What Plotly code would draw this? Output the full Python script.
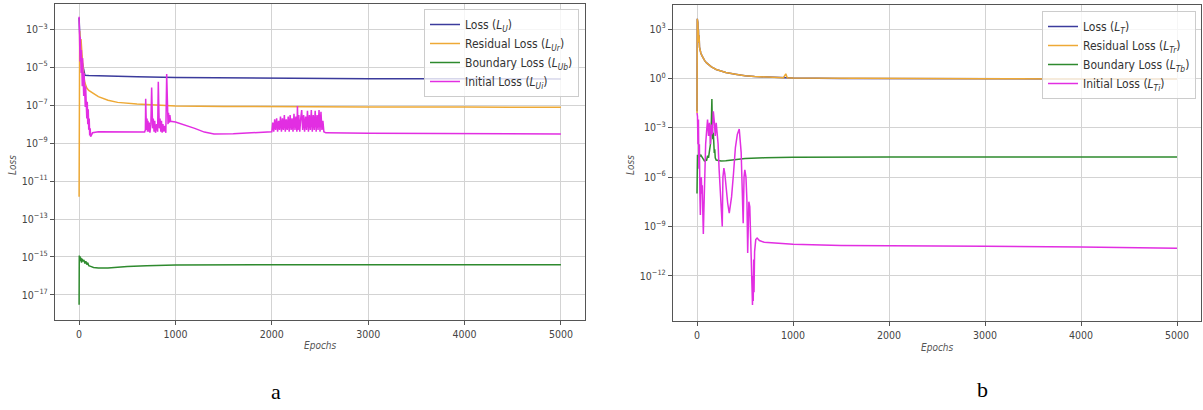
import plotly.graph_objects as go

# ---------------- Panel a (U) ----------------
epochs_loss_U = [0, 10, 30, 60, 100, 300, 600, 1000, 2000, 3000, 4000, 5000]
loss_U = [4e-3, 2e-4, 2e-5, 3.8e-6, 3.7e-6, 3.4e-6, 3.1e-6, 2.9e-6, 2.6e-6, 2.5e-6, 2.45e-6, 2.4e-6]

epochs_res_U = [0, 3, 6, 10, 15, 20, 30, 40, 50, 60, 80, 100, 150, 200, 300, 400, 600, 800,
                1000, 1500, 2000, 3000, 4000, 5000]
res_U = [1.5e-12, 2e-4, 8e-4, 3e-4, 1e-4, 3e-4, 5e-5, 1e-5, 3e-6, 1.5e-6, 8e-7, 6e-7, 4e-7,
         2.8e-7, 1.8e-7, 1.4e-7, 1.15e-7, 1e-7, 9e-8, 8.5e-8, 8.2e-8, 8e-8, 7.9e-8, 7.8e-8]

epochs_bnd_U = [0, 2, 5, 10, 15, 20, 25, 30, 40, 50, 60, 70, 80, 90, 100, 120, 150, 200, 250,
                300, 400, 500, 700, 800, 850, 900, 1000, 2000, 3000, 4000, 5000]
bnd_U = [3e-18, 1.2e-15, 8e-16, 1.1e-15, 6e-16, 9e-16, 5e-16, 8e-16, 6e-16, 7e-16, 4.5e-16,
         6e-16, 4e-16, 5e-16, 3.5e-16, 3.2e-16, 2.8e-16, 2.6e-16, 2.5e-16, 2.6e-16, 2.9e-16,
         3.2e-16, 3.5e-16, 3.6e-16, 3.4e-16, 3.7e-16, 3.8e-16, 3.9e-16, 3.9e-16, 3.9e-16, 3.9e-16]

epochs_ini_U = [0, 2, 4, 6, 8, 10, 12, 15, 18, 21, 24, 27, 30, 33, 36, 40, 44, 48, 52, 56, 60,
                64, 68, 72, 76, 80, 85, 90, 95, 100, 105, 110, 115, 120, 140, 200, 400, 680,
                688, 691, 695, 700, 705, 710, 715, 720, 728, 735, 745, 753, 758, 763, 770, 778,
                785, 793, 805, 815, 822, 827, 832, 840, 848, 855, 862, 870, 880, 890, 900, 909,
                913, 918, 923, 928, 935, 942, 950, 1000, 1100, 1200, 1300, 1400, 1600, 1800,
                2000, 2010, 2020, 2030, 2040, 2050, 2060, 2070, 2080, 2090, 2100, 2110, 2120,
                2130, 2140, 2150, 2160, 2170, 2180, 2190, 2200, 2210, 2220, 2230, 2240, 2250,
                2260, 2266, 2272, 2280, 2290, 2300, 2310, 2320, 2330, 2340, 2350, 2360, 2370,
                2380, 2390, 2400, 2410, 2420, 2430, 2440, 2450, 2460, 2470, 2480, 2490, 2500,
                2510, 2520, 2530, 2540, 2560, 3000, 4000, 5000]
ini_U = [4.6e-3, 1e-4, 2e-3, 5e-5, 8e-4, 2e-5, 4e-4, 1e-5, 2e-4, 5e-6, 8e-5, 2e-6, 5e-5, 1e-6,
         3e-5, 6e-7, 1.5e-5, 3e-7, 5e-6, 2e-7, 2e-6, 8e-8, 1e-6, 5e-8, 4e-7, 2e-8, 1.5e-7, 1e-8,
         6e-8, 5e-9, 2e-8, 2.5e-9, 6e-9, 2.2e-9, 3.5e-9, 4e-9, 3.8e-9, 3.8e-9,
         5e-9, 2.2e-7, 3e-8, 5e-9, 2e-8, 4e-9, 1.5e-8, 4e-9, 1.2e-8, 3.5e-9, 1e-8, 8.5e-7, 5e-8,
         6e-9, 2e-8, 4e-9, 1.5e-8, 3.5e-9, 1e-8, 4e-9, 1.7e-6, 8e-8, 6e-9, 2e-8, 4e-9, 1.5e-8,
         3.5e-9, 1e-8, 4e-9, 8e-9, 3.5e-9, 4.4e-6, 5e-7, 5e-8, 1e-8, 4e-8, 1.2e-8, 3e-8, 1.4e-8,
         1.3e-8, 9e-9, 6e-9, 3.8e-9, 3e-9, 3.1e-9, 3.5e-9,
         4e-9, 1.2e-8, 4e-9, 1.8e-8, 5e-9, 2e-8, 4e-9, 1.5e-8, 5e-9, 2.5e-8, 4e-9, 2e-8, 5e-9,
         3e-8, 4e-9, 1.8e-8, 5e-9, 2.5e-8, 4e-9, 3e-8, 5e-9, 2e-8, 4e-9, 3.5e-8, 5e-9, 2.5e-8,
         4e-9, 9e-8, 5e-9, 3e-8, 4e-9, 2e-8, 5.5e-8, 5e-9, 3e-8, 4e-9, 2.5e-8, 5e-9, 5e-8,
         4e-9, 3e-8, 5e-9, 5.5e-8, 4e-9, 3e-8, 5e-9, 5e-8, 4e-9, 3e-8, 5e-9, 5.5e-8, 4e-9,
         4.5e-8, 5e-9, 1.5e-8, 4e-9, 3.5e-9, 3.3e-9, 3.2e-9, 3e-9]

# ---------------- Panel b (T) ----------------
epochs_loss_T = [0, 3, 6, 9, 12, 15, 18, 22, 26, 30, 40, 50, 60, 80, 100, 150, 200, 300, 400,
                 500, 600, 700, 800, 900, 1000, 1500, 2000, 3000, 4000, 5000]
loss_T = [1e-2, 4200, 800, 2500, 300, 900, 150, 400, 80, 55, 35, 25, 18, 12, 8.7, 5, 3.5, 2.3,
          1.8, 1.45, 1.3, 1.2, 1.15, 1.1, 1.05, 1.0, 0.97, 0.95, 0.93, 0.91]

epochs_res_T = [0, 3, 6, 9, 12, 15, 18, 22, 26, 30, 40, 50, 60, 80, 100, 150, 200, 300, 400,
                500, 600, 700, 800, 900, 925, 940, 1000, 1500, 2000, 3000, 4000, 5000]
res_T = [8e-3, 4200, 800, 2500, 300, 900, 150, 400, 80, 55, 35, 25, 18, 12, 8.7, 5, 3.5, 2.3,
         1.8, 1.45, 1.3, 1.2, 1.15, 1.1, 1.9, 1.1, 1.05, 1.0, 0.97, 0.95, 0.93, 0.91]

epochs_bnd_T = [0, 5, 10, 20, 30, 40, 50, 60, 70, 80, 90, 100, 110, 120, 130, 140, 150, 155,
                160, 165, 170, 175, 180, 185, 190, 200, 220, 250, 300, 400, 500, 700, 1000,
                2000, 3000, 4000, 5000]
bnd_T = [1e-7, 2.3e-5, 1.5e-5, 2.5e-5, 1.8e-5, 2.2e-5, 1.7e-5, 1.2e-5, 1e-5, 9e-6, 1.2e-5,
         1e-5, 2e-5, 1.5e-5, 4e-5, 1e-4, 3e-3, 5.6e-2, 1e-3, 2e-4, 5e-4, 1e-4, 3e-5, 5e-5,
         1.5e-5, 1.1e-5, 1e-5, 9.5e-6, 1e-5, 1.2e-5, 1.35e-5, 1.5e-5, 1.6e-5, 1.65e-5, 1.65e-5,
         1.65e-5, 1.65e-5]

epochs_ini_T = [0, 5, 10, 15, 20, 25, 30, 35, 40, 45, 50, 55, 60, 66, 72, 80, 90, 100, 110, 120,
                130, 140, 150, 160, 170, 180, 190, 200, 210, 220, 230, 240, 250, 263, 270, 280,
                290, 300, 320, 336, 360, 380, 400, 420, 440, 460, 481, 490, 498, 510, 520, 528,
                540, 550, 560, 565, 570, 575, 578, 582, 586, 590, 594, 600, 612, 626, 650, 700,
                800, 1000, 1500, 2000, 3000, 4000, 5000]
ini_T = [7.9e-3, 5e-3, 1e-4, 3.2e-3, 3.2e-6, 1e-4, 1e-7, 5e-9, 3.2e-7, 1e-6, 1e-7, 3.2e-7,
         1e-8, 3.5e-10, 1e-8, 1e-6, 1e-4, 6.3e-4, 3.2e-3, 3.2e-4, 2e-3, 1e-4, 1.6e-3, 4e-4,
         1e-2, 2.5e-3, 3.2e-4, 2e-3, 6.3e-4, 1e-4, 3.2e-6, 3.2e-7, 3.2e-8, 1e-9, 1e-6, 3.5e-6,
         1.6e-6, 2.5e-7, 2.5e-8, 6.5e-9, 6.3e-8, 1.6e-6, 6.3e-5, 4e-4, 8.3e-4, 3.2e-5, 1.6e-9,
         1e-6, 2.8e-6, 1e-6, 4e-8, 2.5e-11, 3.2e-8, 1.6e-8, 1e-10, 3e-12, 1e-11, 1e-13,
         1.7e-14, 1e-12, 3e-14, 1e-11, 1e-13, 3e-11, 1.6e-10, 2e-10, 1.4e-10, 1.1e-10, 1e-10,
         8.5e-11, 7.1e-11, 6.6e-11, 6.3e-11, 5.8e-11, 4.8e-11]

# ---------------- Labels / styling ----------------
names_U = ["Loss (<i>L<sub>U</sub></i>)", "Residual Loss (<i>L<sub>Ur</sub></i>)",
           "Boundary Loss (<i>L<sub>Ub</sub></i>)", "Initial Loss (<i>L<sub>Ui</sub></i>)"]
names_T = ["Loss (<i>L<sub>T</sub></i>)", "Residual Loss (<i>L<sub>Tr</sub></i>)",
           "Boundary Loss (<i>L<sub>Tb</sub></i>)", "Initial Loss (<i>L<sub>Ti</sub></i>)"]
colors = ["#3b3b9c", "#eea935", "#2e8a2e", "#e22ee2"]

x_ticks = [0, 1000, 2000, 3000, 4000, 5000]
y_exp_U = [-17, -15, -13, -11, -9, -7, -5, -3]
y_exp_T = [-12, -9, -6, -3, 0, 3]

fig = go.Figure()

series_U = [(epochs_loss_U, loss_U), (epochs_res_U, res_U), (epochs_bnd_U, bnd_U), (epochs_ini_U, ini_U)]
series_T = [(epochs_loss_T, loss_T), (epochs_res_T, res_T), (epochs_bnd_T, bnd_T), (epochs_ini_T, ini_T)]

for (xs, ys), name, c in zip(series_U, names_U, colors):
    fig.add_trace(go.Scatter(x=xs, y=ys, mode="lines", name=name, legend="legend",
                             line=dict(color=c, width=1.5), xaxis="x", yaxis="y"))
for (xs, ys), name, c in zip(series_T, names_T, colors):
    fig.add_trace(go.Scatter(x=xs, y=ys, mode="lines", name=name, legend="legend2",
                             line=dict(color=c, width=1.5), xaxis="x2", yaxis="y2"))

W, H = 1203, 410
FONT = "DejaVu Sans Condensed, DejaVu Sans"
tickfont = dict(family=FONT, size=10.5, color="#444444")

def xax(dom, anchor):
    return dict(domain=dom, anchor=anchor, range=[-250, 5250], tickvals=x_ticks,
                ticktext=[str(v) for v in x_ticks], showgrid=True, gridcolor="#d3d3d3",
                gridwidth=1, showline=True, linecolor="#555555", linewidth=1.2, mirror=True,
                ticks="outside", ticklen=4, tickcolor="#555555", tickfont=tickfont,
                zeroline=False)

def yax(dom, anchor, exps, rng):
    return dict(domain=dom, anchor=anchor, type="log", range=rng,
                tickvals=[10.0 ** e for e in exps],
                ticktext=["10<sup>" + str(e).replace("-", "\u2212") + "</sup>" for e in exps],
                showgrid=True, gridcolor="#d3d3d3", gridwidth=1, showline=True,
                linecolor="#555555", linewidth=1.2, mirror=True, ticks="outside", ticklen=4,
                tickcolor="#555555", tickfont=tickfont, zeroline=False)

dxa = [55 / W, 585 / W]
dya = [1 - 320 / H, 1 - 4 / H]
dxb = [673 / W, 1201 / W]
dyb = [1 - 321 / H, 1 - 5 / H]

legfont = dict(family=FONT, size=12, color="#333333")
fig.update_layout(
    width=W, height=H, margin=dict(l=0, r=0, t=0, b=0),
    paper_bgcolor="white", plot_bgcolor="white",
    xaxis=xax(dxa, "y"), yaxis=yax(dya, "x", y_exp_U, [-18.32, -1.67]),
    xaxis2=xax(dxb, "y2"), yaxis2=yax(dyb, "x2", y_exp_T, [-14.74, 4.46]),
    legend=dict(x=424 / W, y=1 - 9 / H, xanchor="left", yanchor="top",
                bgcolor="rgba(255,255,255,0.8)", bordercolor="#cccccc", borderwidth=1,
                font=legfont, tracegroupgap=0, itemwidth=30),
    legend2=dict(x=1042 / W, y=1 - 11 / H, xanchor="left", yanchor="top",
                 bgcolor="rgba(255,255,255,0.8)", bordercolor="#cccccc", borderwidth=1,
                 font=legfont, tracegroupgap=0, itemwidth=30),
    showlegend=True,
)

labfont = dict(family=FONT, size=10, color="#555555")
ann = [
    dict(text="<i>Loss</i>", x=12 / W, y=1 - 165 / H, textangle=-90, font=labfont),
    dict(text="<i>Loss</i>", x=630 / W, y=1 - 165 / H, textangle=-90, font=labfont),
    dict(text="<i>Epochs</i>", x=320 / W, y=1 - 345 / H, font=labfont),
    dict(text="<i>Epochs</i>", x=937 / W, y=1 - 347 / H, font=labfont),
    dict(text="a", x=276 / W, y=1 - 391 / H, font=dict(family="Liberation Serif", size=22, color="#000000")),
    dict(text="b", x=982 / W, y=1 - 389 / H, font=dict(family="Liberation Serif", size=22, color="#000000")),
]
for a in ann:
    fig.add_annotation(xref="paper", yref="paper", showarrow=False, xanchor="center",
                       yanchor="middle", **a)

fig.write_html("out.html", config={"displayModeBar": False},
               post_script="document.body.style.margin='0px';document.body.style.overflow='hidden';")
